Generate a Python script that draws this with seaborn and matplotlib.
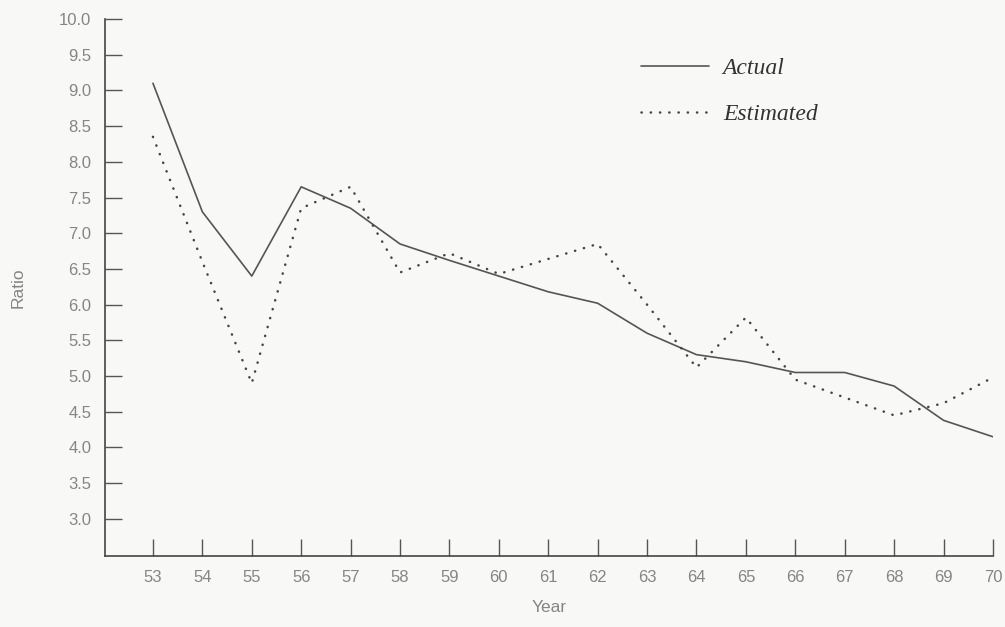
import numpy as np
import pandas as pd
import matplotlib
matplotlib.use("Agg")
import matplotlib.pyplot as plt
import seaborn as sns

years = [53, 54, 55, 56, 57, 58, 59, 60, 61, 62, 63, 64, 65, 66, 67, 68, 69, 70]
actual = [9.1, 7.3, 6.4, 7.65, 7.35, 6.85, 6.62, 6.4, 6.18, 6.02, 5.6, 5.3, 5.2, 5.05, 5.05, 4.86, 4.38, 4.15]
estimated = [8.35, 6.6, 4.9, 7.35, 7.65, 6.45, 6.72, 6.43, 6.64, 6.85, 6.0, 5.12, 5.82, 4.95, 4.7, 4.45, 4.62, 4.98]
y_ticks = [3.0, 3.5, 4.0, 4.5, 5.0, 5.5, 6.0, 6.5, 7.0, 7.5, 8.0, 8.5, 9.0, 9.5, 10.0]

sns.set_theme(style="white")
plt.rcParams['font.family'] = ['Liberation Sans', 'DejaVu Sans']

bg = '#f8f8f6'
grey = '#858585'
line_col = '#555555'

fig = plt.figure(figsize=(10.05, 6.27), dpi=100, facecolor=bg)
ax = fig.add_axes([0.1045, 0.1132, 0.8835, 0.8565])
ax.set_facecolor(bg)

sns.lineplot(x=years, y=actual, ax=ax, color=line_col, lw=1.2, label='Actual')
sns.lineplot(x=years, y=estimated, ax=ax, color='#444444', lw=1.8,
             linestyle=(0, (0.1, 3.6)), dash_capstyle='round', label='Estimated')

ax.set_xlim(52.03, 70)
ax.set_ylim(2.48, 10.0)
ax.set_xticks(years)
ax.set_xticklabels([str(y) for y in years])
ax.set_yticks(y_ticks)
ax.set_yticklabels([f'{v:.1f}' for v in y_ticks])

for s in ['top', 'right']:
    ax.spines[s].set_visible(False)
for s in ['left', 'bottom']:
    ax.spines[s].set_color('#444444')
    ax.spines[s].set_linewidth(1.2)

ax.tick_params(axis='both', direction='in', length=12, width=1, color='#555555',
               labelsize=12, labelcolor=grey, pad=10)
ax.tick_params(axis='y', left=True)
ax.tick_params(axis='x', bottom=True)

ax.set_xlabel('Year', fontsize=12.5, color=grey, labelpad=11)
ax.set_ylabel('Ratio', fontsize=12.5, color=grey, labelpad=24)

leg = ax.legend(loc='upper left', bbox_to_anchor=(0.617, 0.942), bbox_transform=fig.transFigure,
                frameon=False, handlelength=2.85, handletextpad=0.6, labelspacing=1.05,
                prop={'family': 'Liberation Serif', 'style': 'italic', 'size': 17})
for t in leg.get_texts():
    t.set_color('#333333')

fig.savefig('out.png', dpi=100, facecolor=bg)
